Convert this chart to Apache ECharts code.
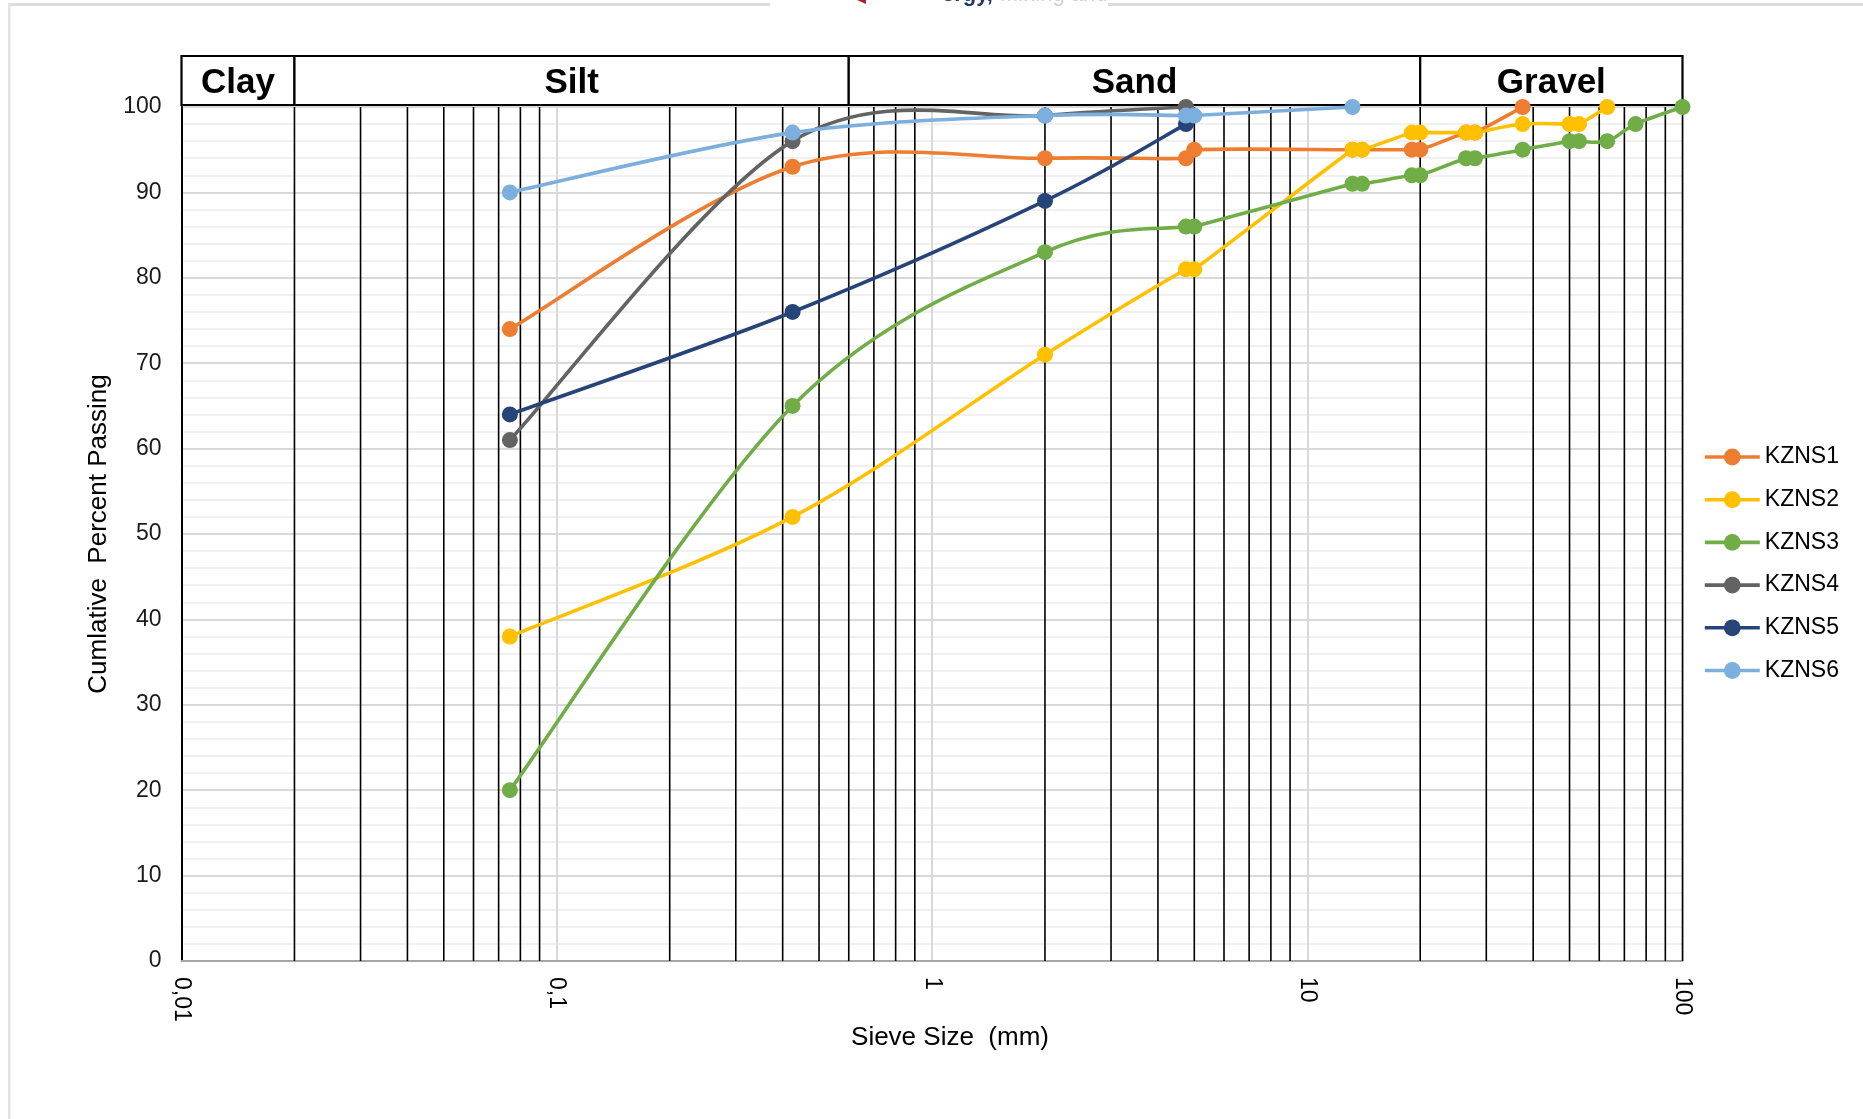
<!DOCTYPE html>
<html>
<head>
<meta charset="utf-8">
<script src="https://cdn.jsdelivr.net/npm/echarts@6/dist/echarts.min.js"></script>
<style>
html,body{margin:0;padding:0;background:#fff;}
#chart{width:1863px;height:1119px;}
</style>
</head>
<body>
<div id="chart"></div>
<script>
// ---------- data ----------
const seriesNames = ['KZNS1', 'KZNS2', 'KZNS3', 'KZNS4', 'KZNS5', 'KZNS6'];
const seriesColors = ['#ED7D31', '#FFC000', '#70AD47', '#636363', '#264478', '#7CAFDD'];

const kzns1Size = [0.075, 0.425, 2, 4.75, 5, 13.2, 14, 19, 20, 26.5, 28, 37.5];
const kzns1Pass = [74, 93, 94, 94, 95, 95, 95, 95, 95, 97, 97, 100];

const kzns2Size = [0.075, 0.425, 2, 4.75, 5, 13.2, 14, 19, 20, 26.5, 28, 37.5, 50, 53, 63];
const kzns2Pass = [38, 52, 71, 81, 81, 95, 95, 97, 97, 97, 97, 98, 98, 98, 100];

const kzns3Size = [0.075, 0.425, 2, 4.75, 5, 13.2, 14, 19, 20, 26.5, 28, 37.5, 50, 53, 63, 75, 100];
const kzns3Pass = [20, 65, 83, 86, 86, 91, 91, 92, 92, 94, 94, 95, 96, 96, 96, 98, 100];

const kzns4Size = [0.075, 0.425, 2, 4.75];
const kzns4Pass = [61, 96, 99, 100];

const kzns5Size = [0.075, 0.425, 2, 4.75];
const kzns5Pass = [64, 76, 89, 98];

const kzns6Size = [0.075, 0.425, 2, 4.75, 5, 13.2];
const kzns6Pass = [90, 97, 99, 99, 99, 100];

const xTicks = [0.01, 0.1, 1, 10, 100];
const xTickLabels = ['0,01', '0,1', '1', '10', '100'];

// black reference (minor log) grid lines
const refLineSizes = [0.02, 0.03, 0.04, 0.05, 0.06, 0.07, 0.08, 0.09,
  0.2, 0.3, 0.4, 0.5, 0.6, 0.7, 0.8, 0.9,
  2, 3, 4, 5, 6, 7, 8, 9,
  20, 30, 40, 50, 60, 70, 80, 90, 100];

// soil classification zones
const zoneNames = ['Clay', 'Silt', 'Sand', 'Gravel'];
const zoneFrom = [0.01, 0.02, 0.6, 20];
const zoneTo = [0.02, 0.6, 20, 100];

// ---------- build ----------
const sizes = [kzns1Size, kzns2Size, kzns3Size, kzns4Size, kzns5Size, kzns6Size];
const passes = [kzns1Pass, kzns2Pass, kzns3Pass, kzns4Pass, kzns5Pass, kzns6Pass];

const FONT = '"Liberation Sans", Arial, sans-serif';
const LINE_W = 3.6;

// Excel-style smoothed curve (Bezier with 1/6 tension, arms capped at half segment)
function smoothSegments(pts) {
  const segs = [];
  const n = pts.length;
  const dist = (a, b) => Math.hypot(b[0] - a[0], b[1] - a[1]);
  for (let i = 0; i < n - 1; i++) {
    const p0 = pts[i - 1] || pts[i];
    const p1 = pts[i];
    const p2 = pts[i + 1];
    const p3 = pts[i + 2] || pts[i + 1];
    const d12 = dist(p1, p2);
    const t1 = [p2[0] - p0[0], p2[1] - p0[1]];
    const t2 = [p3[0] - p1[0], p3[1] - p1[1]];
    const l1 = Math.hypot(t1[0], t1[1]);
    const l2 = Math.hypot(t2[0], t2[1]);
    let f1 = 1 / 6, f2 = 1 / 6;
    if (l1 * f1 > d12 / 2 && l1 > 0) f1 = d12 / 2 / l1;
    if (l2 * f2 > d12 / 2 && l2 > 0) f2 = d12 / 2 / l2;
    segs.push({
      x1: p1[0], y1: p1[1],
      cpx1: p1[0] + t1[0] * f1, cpy1: p1[1] + t1[1] * f1,
      cpx2: p2[0] - t2[0] * f2, cpy2: p2[1] - t2[1] * f2,
      x2: p2[0], y2: p2[1]
    });
  }
  return segs;
}

const chart = echarts.init(document.getElementById('chart'), null, {renderer: 'canvas'});

const dataSeries = [];
seriesNames.forEach((name, i) => {
  const pts = sizes[i].map((s, k) => [s, passes[i][k]]);
  // smoothed curve
  dataSeries.push({
    name: name + ' curve',
    type: 'custom',
    xAxisIndex: 0, yAxisIndex: 0,
    silent: true, z: 3,
    encode: {x: 0, y: 1},
    data: pts,
    renderItem: function (params, api) {
      if (params.dataIndex !== 0) return null;
      const px = sizes[i].map((s, k) => api.coord([s, passes[i][k]]));
      return {
        type: 'group',
        children: smoothSegments(px).map(sg => ({
          type: 'bezierCurve',
          shape: sg,
          style: {stroke: seriesColors[i], lineWidth: LINE_W, fill: null, lineCap: 'round'}
        }))
      };
    }
  });
  // markers
  dataSeries.push({
    name: name,
    type: 'line',
    xAxisIndex: 0, yAxisIndex: 0,
    smooth: false,
    symbol: 'circle',
    symbolSize: 16,
    z: 3,
    color: seriesColors[i],
    lineStyle: {width: LINE_W, color: seriesColors[i], opacity: 0},
    itemStyle: {color: seriesColors[i]},
    data: pts
  });
});

const option = {
  animation: false,
  backgroundColor: '#fff',
  textStyle: {fontFamily: FONT},
  grid: [
    {left: 181.5, right: 180.5, top: 107, bottom: 158, containLabel: false},
    {left: 181.5, right: 180.5, top: 56, height: 49, containLabel: false}
  ],
  legend: {
    orient: 'vertical',
    left: 1698,
    top: 440,
    itemWidth: 55,
    itemHeight: 21,
    itemGap: 18.7,
    data: seriesNames,
    lineStyle: {opacity: 1, width: LINE_W},
    textStyle: {fontSize: 23, color: '#000', fontFamily: FONT, lineHeight: 24}
  },
  xAxis: [
    {
      type: 'log', logBase: 10, min: 0.01, max: 100, gridIndex: 0,
      name: 'Sieve Size  (mm)', nameLocation: 'middle', nameGap: 64,
      nameMoveOverlap: false,
      nameTextStyle: {fontSize: 26, color: '#000', fontFamily: FONT, padding: [0, 0, 0, 36]},
      axisLine: {show: true, lineStyle: {color: '#a6a6a6', width: 2}},
      axisTick: {show: false},
      axisLabel: {
        rotate: -90, margin: 16, fontSize: 23, color: '#000', fontFamily: FONT,
        formatter: function (v) {
          let best = 0;
          for (let i = 0; i < xTicks.length; i++) {
            if (Math.abs(Math.log10(v) - Math.log10(xTicks[i])) < Math.abs(Math.log10(v) - Math.log10(xTicks[best]))) best = i;
          }
          return xTickLabels[best];
        }
      },
      splitLine: {show: true, lineStyle: {color: '#d9d9d9', width: 2}},
      minorTick: {show: false},
      minorSplitLine: {show: false}
    },
    {
      type: 'log', logBase: 10, min: 0.01, max: 100, gridIndex: 1, show: false
    }
  ],
  yAxis: [
    {
      type: 'value', min: 0, max: 100, interval: 10, gridIndex: 0,
      name: 'Cumlative  Percent Passing', nameLocation: 'middle', nameGap: 70, nameRotate: 90,
      nameMoveOverlap: false,
      nameTextStyle: {fontSize: 26, color: '#000', fontFamily: FONT},
      axisLine: {show: true, lineStyle: {color: '#000', width: 2}},
      axisTick: {show: false},
      axisLabel: {fontSize: 23, color: '#1a1a1a', margin: 20, fontFamily: FONT},
      splitLine: {show: true, lineStyle: {color: '#d9d9d9', width: 2}},
      minorTick: {show: false, splitNumber: 5},
      minorSplitLine: {show: true, lineStyle: {color: '#f0f0f0', width: 2}}
    },
    {
      type: 'value', min: 0, max: 1, gridIndex: 1, show: false
    }
  ],
  series: [
    {
      name: 'refLines',
      type: 'custom',
      xAxisIndex: 0, yAxisIndex: 0,
      z: 1, silent: true,
      encode: {x: 0, y: 1},
      data: refLineSizes.map(v => [v, 0]),
      renderItem: function (params, api) {
        const p0 = api.coord([api.value(0), 0]);
        const p1 = api.coord([api.value(0), 100]);
        return {
          type: 'line',
          shape: {x1: p0[0], y1: p0[1], x2: p1[0], y2: p1[1]},
          style: {stroke: '#000', lineWidth: 1.6}
        };
      }
    },
    {
      name: 'zones',
      type: 'custom',
      xAxisIndex: 1, yAxisIndex: 1,
      z: 2, silent: true,
      encode: {x: [0, 1]},
      data: zoneFrom.map((f, i) => [f, zoneTo[i]]),
      renderItem: function (params, api) {
        const a = api.coord([api.value(0), 0]);
        const b = api.coord([api.value(1), 1]);
        return {
          type: 'group',
          children: [
            {
              type: 'rect',
              shape: {x: a[0], y: b[1], width: b[0] - a[0], height: a[1] - b[1]},
              style: {fill: '#fff', stroke: '#000', lineWidth: 2.2}
            },
            {
              type: 'text',
              style: {
                text: zoneNames[params.dataIndex],
                x: (a[0] + b[0]) / 2, y: (a[1] + b[1]) / 2 + 3,
                align: 'center', verticalAlign: 'middle',
                font: 'bold 35px ' + FONT, fill: '#000'
              }
            }
          ]
        };
      }
    }
  ].concat(dataSeries),
  graphic: [
    {type: 'rect', shape: {x: 9, y: 3, width: 761, height: 3}, style: {fill: '#dcdcdc'}, silent: true},
    {type: 'rect', shape: {x: 1108, y: 3, width: 755, height: 3}, style: {fill: '#dcdcdc'}, silent: true},
    {type: 'rect', shape: {x: 8, y: 3, width: 2.5, height: 1116}, style: {fill: '#e3e3e3'}, silent: true},
    {type: 'polygon', shape: {points: [[857, 0], [866, 0], [866, 4]]}, style: {fill: '#b0202a'}, silent: true},
    {type: 'text', style: {text: 'ergy,', x: 942, y: 6, font: 'bold 22px ' + FONT, fill: '#1f3864', verticalAlign: 'bottom'}, silent: true},
    {type: 'text', style: {text: 'Mining and', x: 1000, y: 6, font: '22px ' + FONT, fill: '#d0d0d0', verticalAlign: 'bottom'}, silent: true}
  ]
};

chart.setOption(option);
</script>
</body>
</html>
